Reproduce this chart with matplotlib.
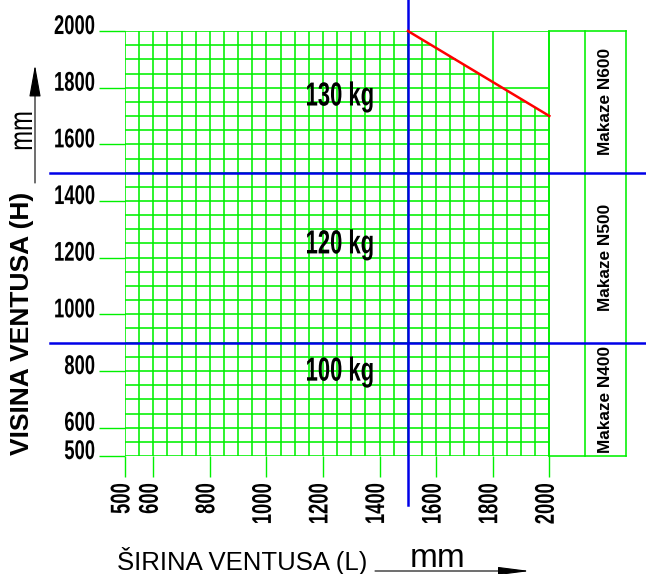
"""Load chart for suction pad sizes: allowed pad width (L) vs pad height (H).

Green millimetre grid, blue split lines between the capacity bands,
red limit line in the top right corner and the scissor model column
on the right hand side.
"""

import matplotlib
matplotlib.use("Agg")
import matplotlib.pyplot as plt
import numpy as np
from matplotlib import patheffects
from matplotlib.transforms import Affine2D

# ==============================================================================
# Data
# ==============================================================================

W_TICKS = [500, 600, 800, 1000, 1200, 1400, 1600, 1800, 2000]   # L, mm
H_TICKS = [500, 600, 800, 1000, 1200, 1400, 1600, 1800, 2000]   # H, mm
GRID_STEP = 50
W_RANGE = [500, 2000]
H_RANGE = [500, 2000]

W_SPLIT = 1500                 # blue vertical line
H_SPLITS = [900, 1500]         # blue horizontal lines

LIMIT_W = [1500, 2000]         # red limit line
LIMIT_H = [2000, 1700]

LOADS = ["100 kg", "120 kg", "130 kg"]
MODELS = ["Makaze N400", "Makaze N500", "Makaze N600"]
MODEL_BANDS = [(500, 900), (900, 1500), (1500, 2000)]
MODEL_COLS = [2000, 2127, 2271]  # column borders of the model table

# ==============================================================================
# Style
# ==============================================================================

GREEN = "#00f000"
BLUE = "#0000e8"
RED = "#ff0000"
GRID_LW = 1.15

plt.rcParams["font.family"] = ["Liberation Sans", "DejaVu Sans"]


class Condensed(patheffects.AbstractPathEffect):
    """Squeeze text glyphs along the reading direction (narrow font look)."""

    def __init__(self, sx=0.68, anchor="center"):
        super().__init__()
        self.sx = sx
        self.anchor = anchor

    def draw_path(self, renderer, gc, tpath, affine, rgbFace=None):
        ext = tpath.get_extents()
        cx = {"left": 0.0, "center": (ext.x0 + ext.x1) / 2,
              "right": ext.x1}[self.anchor]
        squeeze = Affine2D().translate(-cx, 0).scale(self.sx, 1).translate(cx, 0)
        renderer.draw_path(gc, tpath, squeeze + affine, rgbFace)


fig = plt.figure(figsize=(6.46, 5.74), dpi=100)
ax = fig.add_axes([125 / 646, 118 / 574, 501 / 646, 425 / 574])
ax.set_xlim(W_RANGE[0], MODEL_COLS[-1])
ax.set_ylim(*H_RANGE)
for sp in ax.spines.values():
    sp.set_visible(False)

# ==============================================================================
# Grid (cut off above the red limit, except the 200 mm lines)
# ==============================================================================

grid_w = np.arange(W_RANGE[0], W_RANGE[1] + 1, GRID_STEP)
grid_h = np.arange(H_RANGE[0], H_RANGE[1] + 1, GRID_STEP)

for w in grid_w:
    top = H_RANGE[1]
    if w > LIMIT_W[0] and w % 200:
        top = np.interp(w, LIMIT_W, LIMIT_H)
    ax.plot([w, w], [H_RANGE[0], top], color=GREEN, lw=GRID_LW, zorder=1)

for h in grid_h:
    right = W_RANGE[1]
    if h > LIMIT_H[1] and h % 200:
        right = np.interp(h, LIMIT_H[::-1], LIMIT_W[::-1])
    ax.plot([W_RANGE[0], right], [h, h], color=GREEN, lw=GRID_LW, zorder=1)

# model table on the right
for c in MODEL_COLS:
    ax.plot([c, c], H_RANGE, color=GREEN, lw=GRID_LW, zorder=1, clip_on=False)
for h in H_RANGE:
    ax.plot([MODEL_COLS[0], MODEL_COLS[-1]], [h, h], color=GREEN, lw=GRID_LW,
            zorder=1, clip_on=False)
for name, (lo, hi) in zip(MODELS, MODEL_BANDS):
    ax.text((MODEL_COLS[1] + MODEL_COLS[2]) / 2, (lo + hi) / 2, name,
            rotation=90, ha="center", va="center", fontsize=12.4,
            fontweight="bold", zorder=4)

# ==============================================================================
# Split lines and limit
# ==============================================================================

ax.plot([W_SPLIT, W_SPLIT], [327, 2110], color=BLUE, lw=1.8, zorder=3,
        clip_on=False)
for h in H_SPLITS:
    ax.plot([235, 2345], [h, h], color=BLUE, lw=1.8, zorder=3, clip_on=False)

ax.plot(LIMIT_W, LIMIT_H, color=RED, lw=1.8, zorder=3, clip_on=False)

for txt, (x, y) in zip(LOADS, [(1260, 796), (1260, 1245), (1260, 1767)]):
    ax.text(x, y, txt, ha="center", va="center", fontsize=24,
            fontweight="bold", zorder=5,
            path_effects=[Condensed(0.66, "center")])

# ==============================================================================
# Axes ticks and labels
# ==============================================================================

ax.set_xticks(W_TICKS)
ax.set_yticks(H_TICKS)
ax.tick_params(axis="x", length=15, width=1.0, color=GREEN, labelbottom=False)
ax.tick_params(axis="y", length=18.7, width=1.0, color=GREEN, labelleft=False)

for w in W_TICKS:
    ax.text(w - 9, 406, str(w), rotation=90, ha="center", va="top",
            fontsize=19.5, fontweight="bold", clip_on=False,
            path_effects=[Condensed(0.68, "right")])
for h in H_TICKS:
    ax.text(396, h + 14, str(h), ha="right", va="center", fontsize=19.5,
            fontweight="bold", clip_on=False,
            path_effects=[Condensed(0.68, "right")])

fig.text(242 / 646, 1 - 570 / 574, "ŠIRINA VENTUSA (L)", ha="center",
         va="baseline", fontsize=18.5)
fig.text(438 / 646, 1 - 567 / 574, "mm", ha="center", va="baseline",
         fontsize=24)
fig.text(22.5 / 646, 1 - 323 / 574, "VISINA VENTUSA (H)", rotation=90,
         ha="center", va="center", fontsize=19, fontweight="bold")
fig.text(23.5 / 646, 1 - 131 / 574, "mm", rotation=90, ha="center",
         va="center", fontsize=23.5,
         path_effects=[Condensed(0.73, "center")])

# axis direction arrows
ax.annotate("", xy=(530 / 646, 1 - 571 / 574), xytext=(375 / 646, 1 - 571 / 574),
            xycoords="figure fraction", textcoords="figure fraction",
            arrowprops=dict(arrowstyle="-|>,head_length=1.95,head_width=0.25",
                            mutation_scale=10, color="black", lw=0.8,
                            shrinkA=0, shrinkB=0))
ax.annotate("", xy=(35 / 646, 1 - 65 / 574), xytext=(35 / 646, 1 - 183 / 574),
            xycoords="figure fraction", textcoords="figure fraction",
            arrowprops=dict(arrowstyle="-|>,head_length=2.0,head_width=0.36",
                            mutation_scale=10, color="black", lw=0.8,
                            shrinkA=0, shrinkB=0))

fig.savefig("out.png", dpi=100)
